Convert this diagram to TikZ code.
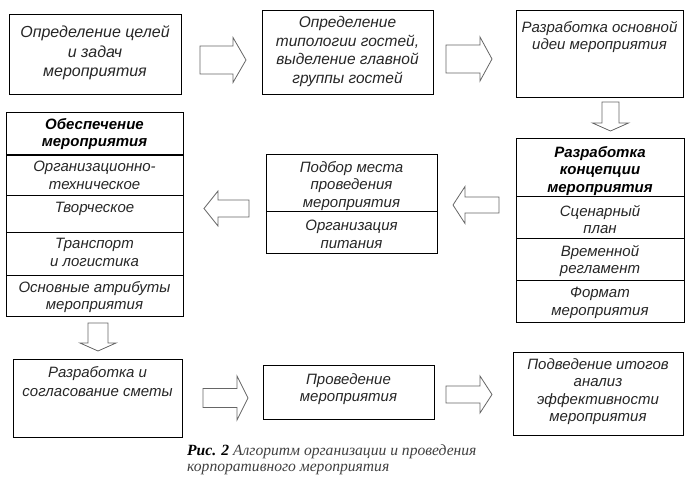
\documentclass[tikz,border=0pt]{standalone}
\usepackage{fontspec}
\setmainfont{Liberation Sans}
\newfontfamily\capfont{Liberation Serif}
\newcommand\blkH[6]{\draw[arr] (#1,#3-#4) -- (#6,#3-#4) -- (#6,#3-#5) -- (#2,#3) -- (#6,#3+#5) -- (#6,#3+#4) -- (#1,#3+#4) -- cycle;}
\newcommand\blkV[6]{\draw[arr] (#3-#4,#1) -- (#3-#4,#6) -- (#3-#5,#6) -- (#3,#2) -- (#3+#5,#6) -- (#3+#4,#6) -- (#3+#4,#1) -- cycle;}
\begin{document}
\begin{tikzpicture}[x=1pt,y=-1pt,
  box/.style={draw=black,line width=0.8pt,anchor=north west,inner sep=0pt},
  txt/.style={anchor=north,inner sep=0pt,align=center,text=black!85,font=\itshape\fontsize{15}{17.5}\selectfont},
  hdr/.style={txt,text=black,font=\bfseries\itshape\fontsize{15}{17.5}\selectfont},
  arr/.style={draw=black!60,line width=0.8pt,fill=white},
  sep/.style={draw=black,line width=0.8pt}]
\useasboundingbox (0,0) rectangle (699,485);
% top row
\node[box,minimum width=172,minimum height=80] (b1) at (9,14) {};
\node[txt,font=\itshape\fontsize{16}{19.5}\selectfont] (t1) at (95,25.5) {Определение целей\\и задач\\мероприятия};
\node[box,minimum width=171,minimum height=84] (b2) at (262,10) {};
\node[txt,font=\itshape\fontsize{15.5}{18.7}\selectfont] (t2) at (347.5,16) {Определение\\типологии гостей,\\выделение главной\\группы гостей};
\node[box,minimum width=167,minimum height=87] (b3) at (516,10) {};
\node[txt] (t3) at (599.5,21) {Разработка основной\\идеи мероприятия};
\blkH{200}{246}{60}{14}{22.5}{233}
\blkH{446}{492}{59}{14}{22}{480}
\blkV{102}{131}{610.5}{8.5}{18}{123}
% concept box
\node[box,minimum width=168,minimum height=184] (b4) at (516,138) {};
\draw[sep] (516,196) -- (684,196);
\draw[sep] (516,238) -- (684,238);
\draw[sep] (516,280) -- (684,280);
\node[hdr] (t4a) at (600,146) {Разработка\\концепции\\мероприятия};
\node[txt] (t4b) at (600,205) {Сценарный\\план};
\node[txt] (t4c) at (600,245) {Временной\\регламент};
\node[txt] (t4d) at (600,287) {Формат\\мероприятия};
\blkH{499}{453}{205}{8}{18.5}{465}
% middle box
\node[box,minimum width=171,minimum height=99] (b5) at (266,154) {};
\draw[sep] (266,211) -- (437,211);
\node[txt] (t5a) at (351.5,161) {Подбор места\\проведения\\мероприятия};
\node[txt] (t5b) at (351.5,220) {Организация\\питания};
\blkH{249}{204}{208.5}{8.5}{17.5}{218}
% left box
\node[box,minimum width=177,minimum height=204] (b6) at (6,112) {};
\draw[draw=black,line width=1.8pt] (6,155) -- (183,155);
\draw[sep] (6,195) -- (183,195);
\draw[sep] (6,232) -- (183,232);
\draw[sep] (6,275) -- (183,275);
\node[hdr] (t6a) at (94.5,118) {Обеспечение\\мероприятия};
\node[txt] (t6b) at (94.5,161) {Организационно-\\техническое};
\node[txt] (t6c) at (94.5,202) {Творческое};
\node[txt] (t6d) at (94.5,238) {Транспорт\\и логистика};
\node[txt] (t6e) at (94.5,281) {Основные атрибуты\\мероприятия};
\blkV{323}{351}{98}{10}{18}{343}
% bottom row
\node[box,minimum width=169,minimum height=78] (b7) at (13,359) {};
\node[txt,font=\itshape\fontsize{15}{19}\selectfont] (t7) at (97.5,366) {Разработка и\\согласование сметы};
\node[box,minimum width=171,minimum height=54] (b8) at (263,365) {};
\node[txt] (t8) at (348.5,373) {Проведение\\мероприятия};
\node[box,minimum width=170,minimum height=83] (b9) at (513,352) {};
\node[txt] (t9) at (598,358) {Подведение итогов\\анализ\\эффективности\\мероприятия};
\blkH{203}{248}{398}{9.5}{22}{237}
\blkH{446}{492}{394.5}{8.5}{18.5}{480}
% caption
\node[anchor=north west,inner sep=0pt,align=left,text=black!75,font=\capfont\itshape\fontsize{15.6}{16.5}\selectfont] (cap) at (187,444) {\textcolor{black}{\textbf{Рис. 2}} Алгоритм организации и проведения\\корпоративного мероприятия};
\end{tikzpicture}
\end{document}
